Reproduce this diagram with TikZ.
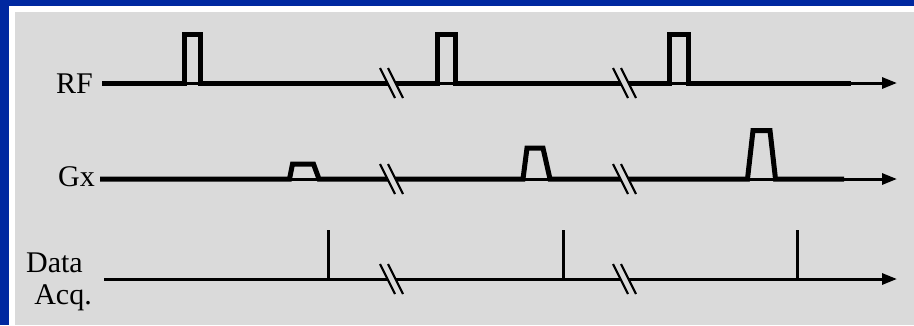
\documentclass[tikz,border=0pt]{standalone}
\usepackage{fontspec}
\setmainfont{Liberation Serif}
\usetikzlibrary{arrows.meta}
\definecolor{frameblue}{RGB}{0,40,160}
\definecolor{panelgray}{RGB}{218,218,218}

\begin{document}
\begin{tikzpicture}[x=1pt, y=-1pt,
    axis/.style={line width=3pt, -{Triangle[length=15pt,width=11pt]}},
    pulse/.style={line width=5pt, line join=miter},
    slash/.style={line width=2.2pt},
    signame/.style={font=\fontsize{30}{32}\selectfont, inner sep=0pt, anchor=base east}]
    \useasboundingbox (0,0) rectangle (914,325);
    % Draw the frame and the panel
    \fill[frameblue] (0,0) rectangle (914,325);
    \fill[white] (9,6) rectangle (914,325);
    \fill[panelgray] (15,12) rectangle (914,325);

    % Signal names
    \node[signame] (rf) at (93,93) {RF};
    \node[signame] (gx) at (95,186) {Gx};
    \node[signame] (data) at (83,272) {Data};
    \node[signame] (acq) at (92,304) {Acq.};

    % Draw time axes
    \foreach \y/\x in {83/102, 179/100, 279/104} \draw[axis] (\x,\y) -- (897,\y);

    % RF pulses
    \draw[pulse] (102,83) -| (184.5,34.5) -| (200.5,83) -| (437.5,34.5) -| (455.5,83)
        -| (669.5,34.5) -| (688.5,83) -- (851,83);

    % Gx gradient lobes
    \draw[pulse] (100,179) -- (289.5,179) -- (292.5,164) -- (313.5,164) -- (319,179)
        -- (523,179) -- (527,148) -- (543,148) -- (550,179)
        -- (747.5,179) -- (753,130.5) -- (770,130.5) -- (775.5,179) -- (844,179);

    % Data acquisition marks
    \foreach \x in {328,563,797} \draw[line width=3pt] (\x,279) -- (\x,230);

    % Breaks in the time axes
    \foreach \y in {83,179,279}
        \foreach \bx in {391.5,624.5} {
            \fill[panelgray] (\bx-11.5,\y-15) -- (\bx-3.5,\y-15) -- (\bx+11.5,\y+15) -- (\bx+3.5,\y+15) -- cycle;
            \draw[slash] (\bx-11.5,\y-15) -- (\bx+3.5,\y+15);
            \draw[slash] (\bx-3.5,\y-15) -- (\bx+11.5,\y+15);
        }
\end{tikzpicture}
\end{document}
